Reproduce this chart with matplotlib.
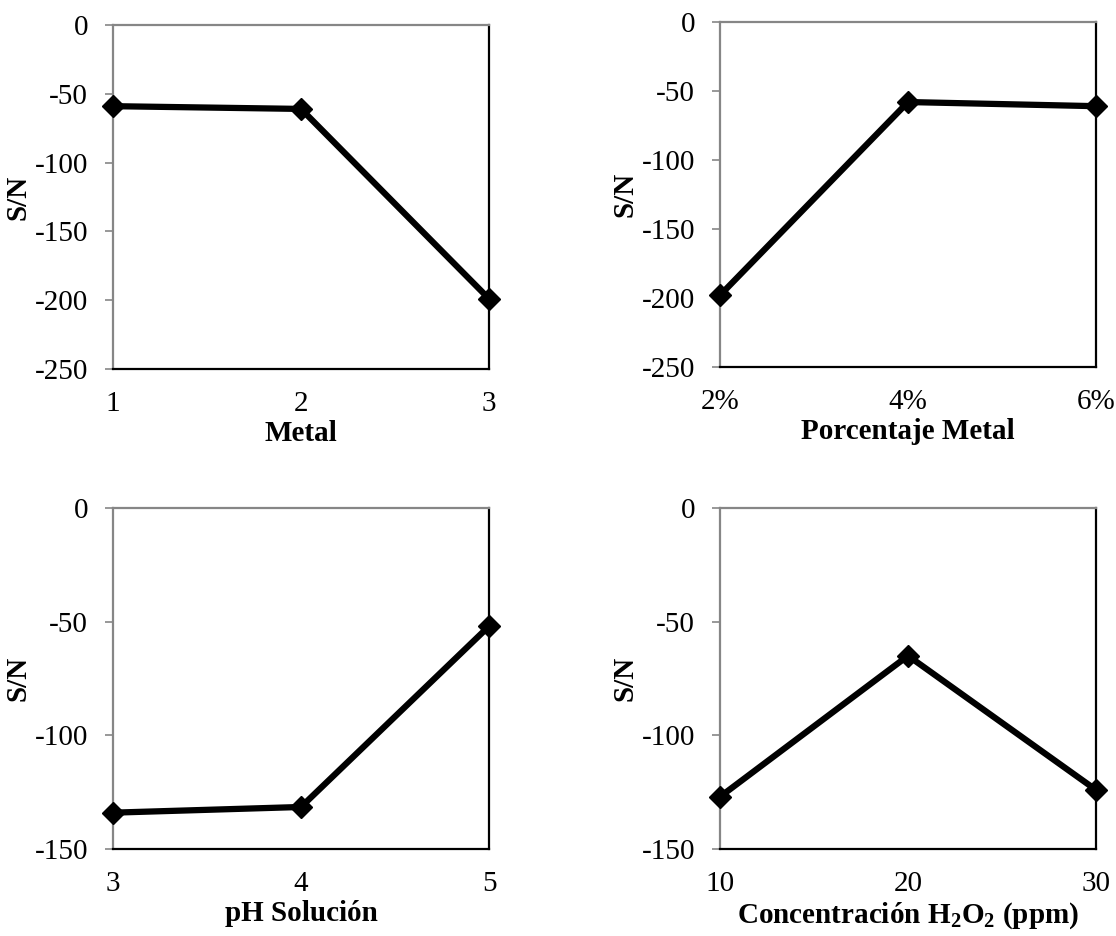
import numpy as np
import matplotlib
matplotlib.use("Agg")
import matplotlib.pyplot as plt

plt.rcParams['font.family'] = ['Liberation Serif', 'DejaVu Serif']
plt.rcParams['axes.unicode_minus'] = False
plt.rcParams['mathtext.fontset'] = 'custom'
plt.rcParams['mathtext.rm'] = 'Liberation Serif'
plt.rcParams['mathtext.bf'] = 'Liberation Serif:bold'

# S/N values
metal_levels = ['1', '2', '3']
metal_sn = [-59, -61, -199]

pct_levels = ['2%', '4%', '6%']
pct_sn = [-198, -58, -61]

ph_levels = ['3', '4', '5']
ph_sn = [-134, -131.5, -52]

h2o2_levels = ['10', '20', '30']
h2o2_sn = [-127, -65, -124]

xlabels = ['Metal', 'Porcentaje Metal', 'pH Solución',
           r'Concentración H$_\mathbf{2}$O$_\mathbf{2}$ (ppm)']
ymins = [-250, -250, -150, -150]

panels = [
    (metal_levels, metal_sn),
    (pct_levels, pct_sn),
    (ph_levels, ph_sn),
    (h2o2_levels, h2o2_sn),
]

# axes boxes in figure fractions [left, bottom, width, height]
boxes = [
    [0.1013, 0.6058, 0.3369, 0.3675],
    [0.6452, 0.6079, 0.3369, 0.3686],
    [0.1013, 0.0929, 0.3369, 0.3644],
    [0.6452, 0.0929, 0.3369, 0.3644],
]

gray = '#868686'
fs = 21

fig = plt.figure(figsize=(11.16, 9.36), dpi=100)

for i, (levels, sn) in enumerate(panels):
    ax = fig.add_axes(boxes[i])
    x = np.arange(len(levels))
    ax.plot(x, sn, color='black', lw=4.5, marker='D', ms=11,
            mfc='black', mec='black', clip_on=False, zorder=5)

    ax.set_xlim(0, len(levels) - 1)
    ax.set_ylim(ymins[i], 0)
    ax.set_xticks(x)
    ax.set_xticklabels(levels)
    ax.set_yticks(np.arange(ymins[i], 1, 50))

    ax.tick_params(axis='x', length=0, pad=16, labelsize=fs)
    ax.tick_params(axis='y', length=6, width=1.2, color=gray,
                   direction='out', pad=12, labelsize=fs)

    ax.spines['top'].set_color(gray)
    ax.spines['left'].set_color(gray)
    ax.spines['bottom'].set_color('black')
    ax.spines['right'].set_color('black')
    for s in ax.spines.values():
        s.set_linewidth(1.6)

    ax.set_xlabel(xlabels[i], fontsize=fs, fontweight='bold', labelpad=2)
    ax.set_ylabel('S/N', fontsize=fs, fontweight='bold', labelpad=2)

fig.savefig('out.png', dpi=100, facecolor='white')
